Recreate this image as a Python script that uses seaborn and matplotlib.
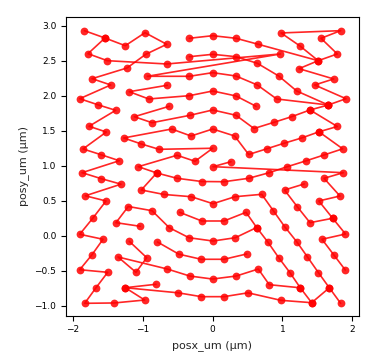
import matplotlib
matplotlib.use("Agg")
import matplotlib.pyplot as plt
import numpy as np
import pandas as pd
import seaborn as sns

# ---- measured point positions (um), indexed 1..175 ----
posx_um = [
    -1.831, -1.536, -1.246, -0.964, -0.654, -0.954, -1.221, -1.503, -1.779, -1.721,
    -1.454, -1.897, -1.640, -1.383, -1.764, -1.517, -1.850, -1.593, -1.331, -0.654,
    -0.931, -0.331, -0.331, -0.331, -1.189, -0.911, -0.646, -0.331, -0.617, -1.117,
    -0.864, -0.321, -0.583, -0.307, -1.269, -1.017, -0.764, -0.507, -0.250, -1.060,
    0.003, 0.336, 0.654, 0.003, 0.336, 0.640, 0.003, 0.336, 0.640, 0.003,
    0.336, 0.621, 0.003, 0.336, 0.003, 0.593, 0.317, 0.003, 0.517, 0.264,
    0.007, 0.979, 1.831, 1.550, 1.250, 1.783, 0.971, 1.510, 1.236, 0.946,
    1.731, 1.460, 1.203, 1.907, 0.917, 1.654, 1.393, 1.131, 0.879, 1.783,
    1.521, 1.283, 1.021, 0.774, 1.860, 1.593, 1.329, 1.069, -1.864, -1.597,
    -1.307, -1.817, -1.521, -1.711, -1.897, -1.564, -1.721, -1.897, -1.497, -1.664,
    -1.826, -1.407, -0.969, -0.797, -1.017, -0.693, -1.203, -0.864, -0.617, -1.379,
    -1.031, -0.786, -1.189, -0.940, -1.093, -1.350, -0.646, -1.246, -0.807, -0.490,
    -0.160, -0.507, -0.153, -0.304, -0.469, -0.153, -0.336, -0.481, -0.161, -0.326,
    0.164, 0.517, 0.007, 0.321, 0.164, 0.479, 0.007, 0.326, 0.631, 0.164,
    0.489, 0.000, 0.340, 0.654, 0.164, 0.507, 0.811, 1.593, 1.869, 0.703,
    1.029, 1.310, 1.821, 1.519, 0.869, 1.211, 1.031, 1.393, 1.717, 1.900,
    1.564, 1.203, 0.793, 0.946, 1.354, 1.731, 1.897, 1.514, 1.107, 1.254,
    1.669, 0.811, 0.976, 1.417, 1.831,
]
posy_um = [
    2.929, 2.824, 2.714, 2.900, 2.734, 2.591, 2.396, 2.500, 2.600, 2.243,
    2.153, 1.957, 1.871, 1.791, 1.563, 1.481, 1.239, 1.157, 1.071, 2.453,
    2.277, 2.277, 2.820, 2.557, 2.057, 1.953, 2.149, 2.000, 1.849, 1.700,
    1.614, 1.720, 1.524, 1.424, 1.396, 1.310, 1.234, 1.149, 1.063, 0.986,
    2.857, 2.820, 2.734, 2.591, 2.557, 2.463, 2.329, 2.281, 2.153, 2.067,
    1.996, 1.849, 1.796, 1.720, 1.524, 1.531, 1.424, 1.249, 1.160, 1.057,
    0.986, 2.896, 2.929, 2.820, 2.710, 2.596, 2.596, 2.500, 2.386, 2.281,
    2.239, 2.153, 2.067, 1.957, 1.953, 1.867, 1.796, 1.700, 1.620, 1.560,
    1.484, 1.399, 1.320, 1.241, 1.241, 1.153, 1.067, 0.986, 0.900, 0.817,
    0.736, 0.570, 0.496, 0.249, 0.020, -0.051, -0.271, -0.486, -0.523, -0.743,
    -0.966, -0.961, -0.919, 0.896, 0.653, 0.589, 0.417, 0.357, 0.114, 0.186,
    0.134, -0.090, -0.080, -0.314, -0.523, -0.304, -0.476, -0.743, -0.694, -0.816,
    -0.871, 0.820, 0.774, 0.557, 0.334, 0.210, -0.029, -0.264, -0.337, -0.576,
    0.771, 0.820, 0.457, 0.557, 0.210, 0.334, -0.076, -0.029, 0.117, -0.337,
    -0.261, -0.619, -0.576, -0.476, -0.871, -0.816, 0.900, 0.820, 0.900, 0.591,
    0.653, 0.739, 0.567, 0.496, 0.357, 0.414, 0.129, 0.186, 0.249, 0.024,
    -0.051, -0.086, -0.094, -0.314, -0.300, -0.271, -0.490, -0.529, -0.529, -0.744,
    -0.744, -0.700, -0.923, -0.957, -0.966,
]

# ---- visiting order of the points (1-based ids), one list per track ----
track_1 = [1, 2, 3, 4, 5, 6, 7, 10, 11, 12, 13, 14, 15, 16, 17, 18, 19, 89, 90, 91,
           92, 93, 94, 95, 96, 97, 98, 99, 100, 101, 102, 103, 118, 120, 121, 145,
           146, 173, 174]
track_2 = [2, 9, 8, 20, 67, 21, 22, 47, 48, 49, 75, 76]
track_3 = [23, 41, 42, 43, 68, 65, 62, 63, 64, 66, 68, 69, 71, 72, 74, 76, 77, 80,
           81, 85, 86, 87, 88, 147, 132, 131, 123, 122, 104, 40, 38, 39, 58, 37, 36,
           35, 33, 34, 55, 57, 59, 84, 83, 82, 81]
track_4 = [24, 44, 45, 46, 70, 73, 76]
track_5 = [27, 25, 26, 28, 50, 51, 52]
track_6 = [29, 30, 31, 32, 53, 54, 56, 79, 78, 77]
track_7 = [104, 105, 106, 124, 133, 134, 150, 155, 157, 162, 165, 168, 171, 175]
track_8 = [111, 110, 107, 108, 109, 127, 137, 138, 139, 163, 164, 169, 170]
track_9 = [125, 126, 135, 136, 139]
track_10 = [113, 114, 115, 116, 117, 130, 142, 143, 144, 172, 170, 174, 171]
track_11 = [112, 128, 129, 140, 141]
track_12 = [119, 118]
track_13 = [60, 61, 149, 148, 153, 154, 159, 160, 161, 166, 167]
track_14 = [152, 151, 156, 158, 159]

tracks = [track_1, track_2, track_3, track_4, track_5, track_6, track_7,
          track_8, track_9, track_10, track_11, track_12, track_13, track_14]

rows = []
for t, ids in enumerate(tracks):
    for k, i in enumerate(ids):
        rows.append({"track": t, "step": k,
                     "posx_um": posx_um[i - 1], "posy_um": posy_um[i - 1]})
df = pd.DataFrame(rows)

sns.set_style("ticks")
plt.rcParams["font.family"] = ["DejaVu Sans"]

fig = plt.figure(figsize=(3.76, 3.64), dpi=100)
ax = fig.add_axes([66 / 376, (364 - 315.5) / 364, 293 / 376, 298.5 / 364])

sns.lineplot(data=df, x="posx_um", y="posy_um", units="track", estimator=None,
             sort=False, color="red", alpha=0.85, marker="o", markersize=5.6,
             markeredgewidth=0, linewidth=1.2, ax=ax)

ax.set_xlim(-2.093, 2.093)
ax.set_ylim(-1.14, 3.124)
ax.set_xticks([-2, -1, 0, 1, 2])
ax.set_yticks([-1.0, -0.5, 0.0, 0.5, 1.0, 1.5, 2.0, 2.5, 3.0])
ax.tick_params(labelsize=6.5, length=3.5, width=0.8, colors="black")
for s in ax.spines.values():
    s.set_color("black")
    s.set_linewidth(0.8)
ax.set_xlabel("posx_um (\u03bcm)", fontsize=8)
ax.set_ylabel("posy_um (\u03bcm)", fontsize=8)

fig.savefig("out.png", dpi=100)
